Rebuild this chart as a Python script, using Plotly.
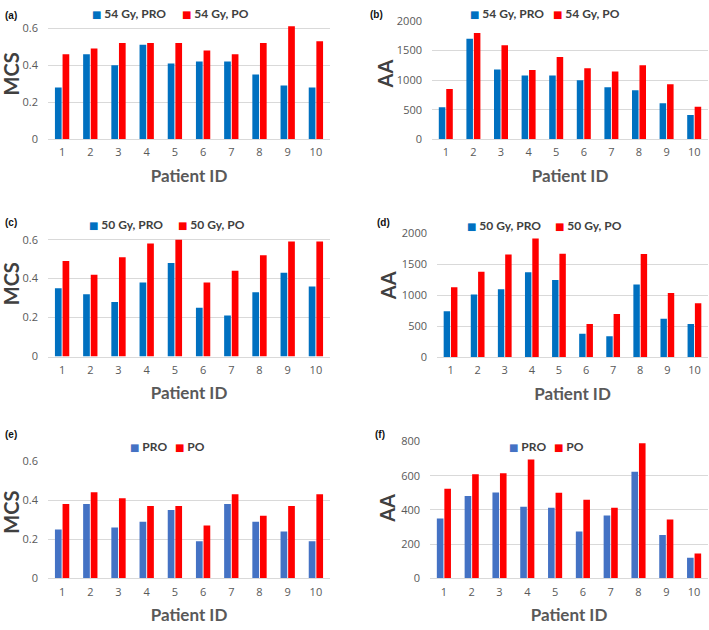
import plotly.graph_objects as go

W, H = 709, 630

patient_ids = ["1", "2", "3", "4", "5", "6", "7", "8", "9", "10"]

# (a) MCS 54 Gy
a_pro = [0.28, 0.46, 0.40, 0.51, 0.41, 0.42, 0.42, 0.35, 0.29, 0.28]
a_po = [0.46, 0.49, 0.52, 0.52, 0.52, 0.48, 0.46, 0.52, 0.61, 0.53]
# (b) AA 54 Gy
b_pro = [540, 1700, 1180, 1080, 1080, 1000, 880, 830, 610, 410]
b_po = [850, 1795, 1590, 1170, 1390, 1200, 1148, 1250, 930, 550]
# (c) MCS 50 Gy
c_pro = [0.35, 0.32, 0.28, 0.38, 0.48, 0.25, 0.21, 0.33, 0.43, 0.36]
c_po = [0.49, 0.42, 0.51, 0.58, 0.60, 0.38, 0.44, 0.52, 0.59, 0.59]
# (d) AA 50 Gy
d_pro = [740, 1013, 1095, 1370, 1245, 378, 336, 1171, 619, 535]
d_po = [1130, 1380, 1655, 1915, 1668, 535, 698, 1664, 1034, 871]
# (e) MCS
e_pro = [0.25, 0.38, 0.26, 0.29, 0.35, 0.19, 0.38, 0.29, 0.24, 0.19]
e_po = [0.38, 0.44, 0.41, 0.37, 0.37, 0.27, 0.43, 0.32, 0.37, 0.43]
# (f) AA
f_pro = [350, 481, 502, 418, 412, 274, 367, 623, 253, 120]
f_po = [523, 608, 614, 694, 500, 460, 412, 789, 344, 146]

names_ab = ["54 Gy, PRO", "54 Gy, PO"]
names_cd = ["50 Gy, PRO", "50 Gy, PO"]
names_ef = ["PRO", "PO"]

DARK_BLUE = "#0070C0"
LIGHT_BLUE = "#4472C4"
RED = "#FF0000"

panels = [
    dict(k="", lab="(a)", pro=a_pro, po=a_po, names=names_ab, blue=DARK_BLUE,
         yr=[0, 0.62], tv=[0, 0.2, 0.4, 0.6], tt=["0", "0.2", "0.4", "0.6"], yt="MCS",
         box=(48, 330, 16.9, 134.5), ytp=(11, 68), leg=(90, 6, 180), lp=(3, 8)),
    dict(k="2", lab="(b)", pro=b_pro, po=b_po, names=names_ab, blue=DARK_BLUE,
         yr=[0, 2000], tv=[0, 500, 1000, 1500, 2000], tt=["0", "500", "1000", "1500", "2000"], yt="AA",
         box=(432, 708, 13.3, 134.5), ytp=(385, 68), leg=(468, 6, 551), lp=(368, 7)),
    dict(k="3", lab="(c)", pro=c_pro, po=c_po, names=names_cd, blue=DARK_BLUE,
         yr=[0, 0.61], tv=[0, 0.2, 0.4, 0.6], tt=["0", "0.2", "0.4", "0.6"], yt="MCS",
         box=(48, 330, 235.3, 357), ytp=(11, 283), leg=(87, 222, 176), lp=(3, 220)),
    dict(k="4", lab="(d)", pro=d_pro, po=d_po, names=names_cd, blue=DARK_BLUE,
         yr=[0, 2000], tv=[0, 500, 1000, 1500, 2000], tt=["0", "500", "1000", "1500", "2000"], yt="AA",
         box=(437, 708, 230.7, 357.7), ytp=(388, 285), leg=(465, 222.7, 553), lp=(375, 220)),
    dict(k="5", lab="(e)", pro=e_pro, po=e_po, names=names_ef, blue=LIGHT_BLUE,
         yr=[0, 0.6], tv=[0, 0.2, 0.4, 0.6], tt=["0", "0.2", "0.4", "0.6"], yt="MCS",
         box=(48, 330, 464, 584.3), ytp=(11, 517), leg=(128, 449, 173), lp=(3, 437)),
    dict(k="6", lab="(f)", pro=f_pro, po=f_po, names=names_ef, blue=LIGHT_BLUE,
         yr=[0, 800], tv=[0, 200, 400, 600, 800], tt=["0", "200", "400", "600", "800"], yt="AA",
         box=(430, 708, 444, 584.3), ytp=(387, 513), leg=(507, 449, 552), lp=(373, 437)),
]

TICK_FONT = dict(family="Open Sans, Segoe UI, sans-serif", size=11, color="#595959")
TITLE_FONT = dict(family="Lato, sans-serif", size=17, color="#595959", weight="bold")
YTITLE_FONT = dict(family="Lato, sans-serif", size=20, color="#404040", weight="bold")
LEG_FONT = dict(family="Lato, sans-serif", size=12, color="#404040", weight="bold")
GRID = "#D9D9D9"

fig = go.Figure()
annotations = []
layout = dict(
    width=W, height=H,
    margin=dict(l=0, r=0, t=0, b=0),
    paper_bgcolor="white", plot_bgcolor="white",
    showlegend=False,
    barmode="group", bargap=0.46, bargroupgap=0.12,
)

for p in panels:
    k = p["k"]
    xa, ya = "x" + k, "y" + k
    fig.add_trace(go.Bar(x=patient_ids, y=p["pro"], name=p["names"][0],
                         marker=dict(color=p["blue"], line=dict(width=0)),
                         xaxis=xa, yaxis=ya))
    fig.add_trace(go.Bar(x=patient_ids, y=p["po"], name=p["names"][1],
                         marker=dict(color=RED, line=dict(width=0)),
                         xaxis=xa, yaxis=ya))
    l, r, t, b = p["box"]
    layout["xaxis" + k] = dict(
        domain=[l / W, r / W], anchor=ya, type="category",
        showgrid=False, showline=True, linecolor=GRID, linewidth=1,
        ticks="", tickfont=TICK_FONT, ticklabelstandoff=3,
        title=dict(text="Patient ID", font=TITLE_FONT, standoff=11),
        fixedrange=True,
    )
    layout["yaxis" + k] = dict(
        domain=[1 - b / H, 1 - t / H], anchor=xa, range=p["yr"],
        tickvals=p["tv"], ticktext=p["tt"],
        showgrid=True, gridcolor=GRID, gridwidth=1, zeroline=False,
        showline=False, ticks="", tickfont=TICK_FONT, ticklabelstandoff=9,
        fixedrange=True,
    )
    tx, ty = p["ytp"]
    annotations.append(dict(text=p["yt"], x=tx / W, y=1 - ty / H, xref="paper", yref="paper",
                            xanchor="center", yanchor="middle", textangle=-90,
                            showarrow=False, font=YTITLE_FONT))
    lx, ly = p["lp"]
    annotations.append(dict(text="<b>" + p["lab"] + "</b>", x=lx / W, y=1 - ly / H,
                            xref="paper", yref="paper", xanchor="left", yanchor="middle",
                            showarrow=False,
                            font=dict(family="Liberation Sans, Arial, sans-serif", size=10, color="#111111")))
    gx1, gy, gx2 = p["leg"]
    for gx, nm, col in [(gx1, p["names"][0], p["blue"]), (gx2, p["names"][1], RED)]:
        annotations.append(dict(
            text="<span style='color:%s;font-family:DejaVu Sans;font-size:10px'>■</span> %s" % (col, nm),
            x=gx / W, y=1 - gy / H, xref="paper", yref="paper",
            xanchor="left", yanchor="middle", showarrow=False, font=LEG_FONT))

layout["annotations"] = annotations
fig.update_layout(**layout)
fig.write_html("out.html",
               config={"displayModeBar": False, "staticPlot": True},
               post_script="document.body.style.margin='0px';document.body.style.overflow='hidden';")
